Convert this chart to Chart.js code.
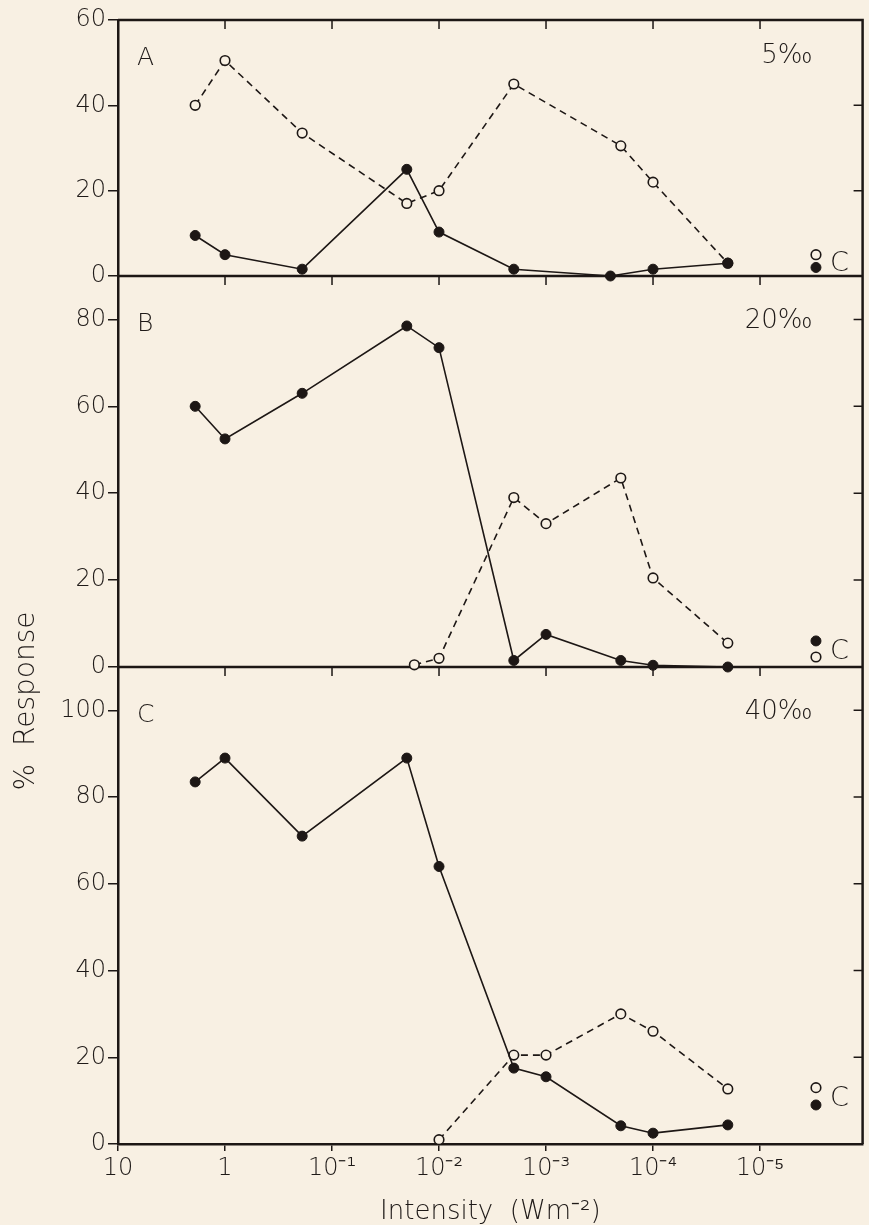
<!DOCTYPE html>
<html>
<head>
<meta charset="utf-8">
<script src="https://cdn.jsdelivr.net/npm/chart.js@4"></script>
<style>
	html, body { margin: 0; padding: 0; background: #f8f0e3; }
	#holder { position: relative; width: 869px; height: 1225px; }
</style>
</head>
<body>
<div id="holder"><canvas id="responseChart" width="869" height="1225"></canvas></div>
<script>
// light intensity of each exposure (W m-2)
const intensities = [1.9, 1, 0.19, 0.02, 0.01, 0.002, 0.001, 0.0002, 0.0001, 0.00002];

// A: 5 per mille
const intensityFilledA = [1.9, 1, 0.19, 0.02, 0.01, 0.002, 0.00025, 0.0001, 0.00002];
const responseFilledA = [9.5, 5, 1.6, 25, 10.3, 1.6, 0, 1.6, 3];
const intensityOpenA = [1.9, 1, 0.19, 0.02, 0.01, 0.002, 0.0002, 0.0001, 0.00002];
const responseOpenA = [40, 50.5, 33.5, 17, 20, 45, 30.5, 22, 3];

// B: 20 per mille
const responseFilledB = [60, 52.5, 63, 78.5, 73.5, 1.5, 7.5, 1.5, 0.4, 0];
const intensityOpenB = [0.017, 0.01, 0.002, 0.001, 0.0002, 0.0001, 0.00002];
const responseOpenB = [0.5, 2, 39, 33, 43.5, 20.5, 5.5];

// C: 40 per mille
const responseFilledC = [83.5, 89, 71, 89, 64, 17.5, 15.5, 4.2, 2.5, 4.4];
const intensityOpenC = [0.01, 0.002, 0.001, 0.0002, 0.0001, 0.00002];
const responseOpenC = [1, 20.5, 20.5, 30, 26, 12.7];

// dark controls, drawn to the right of the lowest intensity
const controlIntensity = 0.000003;
const controlFilled = [2, 6, 9];
const controlOpen = [5, 2.3, 13];

const panelLetters = ['A', 'B', 'C'];
const salinityLabels = ['5‰', '20‰', '40‰'];
const panelMax = [60, 90, 110];
const panelTicks = [[0, 20, 40, 60], [0, 20, 40, 60, 80], [0, 20, 40, 60, 80, 100]];
const xTickValues = [10, 1, 0.1, 0.01, 0.001, 0.0001, 0.00001];
const xTickLabels = ['10', '1', '10⁻¹', '10⁻²', '10⁻³', '10⁻⁴', '10⁻⁵'];

const ink = '#1d1715';
const textInk = '#1f1a18';
const paper = '#f8f0e3';
const fontFamily = '"DejaVu Sans", sans-serif';
const fontWeight = 200;
const panelIds = ['yA', 'yB', 'yC'];

function toPoints(xs, ys) {
	return xs.map((x, i) => ({ x: x, y: ys[i] }));
}

function filledSet(points, axis) {
	return {
		data: points, yAxisID: axis, order: 0, clip: false,
		borderColor: ink, borderWidth: 1.6,
		pointRadius: 5, pointBackgroundColor: ink, pointBorderColor: ink, pointBorderWidth: 1
	};
}

function openSet(points, axis) {
	return {
		data: points, yAxisID: axis, order: 1, clip: false,
		borderColor: ink, borderWidth: 1.6, borderDash: [7, 5],
		pointRadius: 4.8, pointBackgroundColor: paper, pointBorderColor: ink, pointBorderWidth: 1.6
	};
}

function controlSets(index) {
	const axis = panelIds[index];
	const filled = filledSet([{ x: controlIntensity, y: controlFilled[index] }], axis);
	const open = openSet([{ x: controlIntensity, y: controlOpen[index] }], axis);
	filled.showLine = false;
	open.showLine = false;
	return [filled, open];
}

const datasets = [
	filledSet(toPoints(intensityFilledA, responseFilledA), 'yA'),
	openSet(toPoints(intensityOpenA, responseOpenA), 'yA'),
	filledSet(toPoints(intensities, responseFilledB), 'yB'),
	openSet(toPoints(intensityOpenB, responseOpenB), 'yB'),
	filledSet(toPoints(intensities, responseFilledC), 'yC'),
	openSet(toPoints(intensityOpenC, responseOpenC), 'yC'),
	...controlSets(0), ...controlSets(1), ...controlSets(2)
];

function panelScale(index, weight) {
	return {
		type: 'linear', position: 'left', stack: 'panels', stackWeight: weight,
		min: 0, max: panelMax[index],
		afterBuildTicks: (scale) => { scale.ticks = panelTicks[index].map(v => ({ value: v })); },
		afterFit: (scale) => { scale.width = 118; },
		border: { display: true, color: ink, width: 2.5 },
		grid: { drawOnChartArea: false, drawTicks: true, tickLength: 10, color: ink, lineWidth: 1.5 },
		ticks: { color: textInk, padding: 2, autoSkip: false, font: { family: fontFamily, size: 24, weight: fontWeight } }
	};
}

function textFont(size) {
	return fontWeight + ' ' + size + 'px ' + fontFamily;
}

// frame, panel separators and the inward ticks on top and right of each panel
const panelFrame = {
	id: 'panelFrame',
	beforeDatasetsDraw(chart) {
		const ctx = chart.ctx;
		const area = chart.chartArea;
		const xScale = chart.scales.x;
		ctx.save();
		ctx.strokeStyle = ink;
		ctx.lineWidth = 2.5;
		ctx.beginPath();
		ctx.moveTo(area.left, area.top);
		ctx.lineTo(area.right, area.top);
		ctx.lineTo(area.right, area.bottom);
		panelIds.slice(0, 2).forEach(id => {
			const y = chart.scales[id].bottom;
			ctx.moveTo(area.left, y);
			ctx.lineTo(area.right, y);
		});
		ctx.stroke();

		ctx.lineWidth = 1.5;
		ctx.beginPath();
		panelIds.forEach((id, i) => {
			const scale = chart.scales[id];
			xTickValues.slice(1).forEach(v => {
				const x = xScale.getPixelForValue(v);
				ctx.moveTo(x, scale.top);
				ctx.lineTo(x, scale.top + 9);
			});
			panelTicks[i].filter(v => v > 0 && v < panelMax[i]).forEach(v => {
				const y = scale.getPixelForValue(v);
				ctx.moveTo(area.right - 9, y);
				ctx.lineTo(area.right, y);
			});
		});
		ctx.stroke();
		ctx.restore();
	},
	afterDraw(chart) {
		const ctx = chart.ctx;
		const area = chart.chartArea;
		const xScale = chart.scales.x;
		ctx.save();
		ctx.fillStyle = textInk;
		ctx.textBaseline = 'alphabetic';
		panelIds.forEach((id, i) => {
			const scale = chart.scales[id];
			ctx.font = textFont(25);
			ctx.textAlign = 'left';
			ctx.fillText(panelLetters[i], area.left + 19, scale.top + (i === 0 ? 45 : 55));
			ctx.font = textFont(26);
			ctx.textAlign = 'right';
			ctx.fillText(salinityLabels[i], area.right - 50, scale.top + (i === 0 ? 43 : 52));

			const cx = xScale.getPixelForValue(controlIntensity);
			const mid = (scale.getPixelForValue(controlFilled[i]) + scale.getPixelForValue(controlOpen[i])) / 2;
			ctx.textAlign = 'left';
			ctx.font = textFont(27);
			ctx.fillText('C', cx + 14, mid + 10);
		});

		ctx.translate(27, 701);
		ctx.rotate(-Math.PI / 2);
		ctx.textAlign = 'center';
		ctx.textBaseline = 'middle';
		ctx.font = textFont(28);
		ctx.fillText('%  Response', 0, 0);
		ctx.restore();
	}
};

new Chart(document.getElementById('responseChart'), {
	type: 'line',
	data: { datasets: datasets },
	options: {
		responsive: false,
		animation: false,
		devicePixelRatio: 1,
		layout: { padding: { left: 0, right: 1, top: 20, bottom: 0 } },
		plugins: { legend: { display: false }, tooltip: { enabled: false } },
		scales: {
			x: {
				type: 'logarithmic', reverse: true, min: 0.0000011, max: 10,
				afterBuildTicks: (scale) => { scale.ticks = xTickValues.map(v => ({ value: v })); },
				afterFit: (scale) => { scale.height = 81; },
				border: { display: true, color: ink, width: 2.5 },
				grid: { drawOnChartArea: false, drawTicks: true, tickLength: 7, color: ink, lineWidth: 1.5 },
				ticks: {
					color: textInk, padding: 3, autoSkip: false, maxRotation: 0,
					font: { family: fontFamily, size: 24, weight: fontWeight },
					callback: (value, index) => xTickLabels[index]
				},
				title: {
					display: true, text: 'Intensity  (Wm⁻²)', color: textInk,
					font: { family: fontFamily, size: 26, weight: fontWeight, lineHeight: 1 },
					padding: { top: 0, bottom: 0 }
				}
			},
			yC: panelScale(2, 477),
			yB: panelScale(1, 391),
			yA: panelScale(0, 256)
		}
	},
	plugins: [panelFrame]
});
</script>
</body>
</html>
